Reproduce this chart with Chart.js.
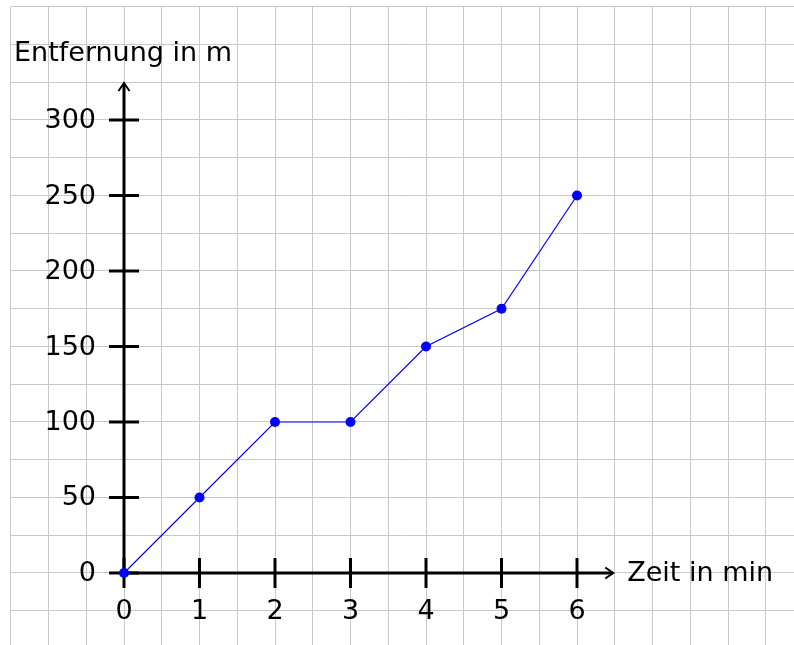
<!DOCTYPE html>
<html>
<head>
<meta charset="utf-8">
<script src="https://cdn.jsdelivr.net/npm/chart.js@4.4.1/dist/chart.umd.min.js"></script>
<style>
  html, body { margin: 0; padding: 0; background: #fff; overflow: hidden; }
  canvas { display: block; }
</style>
</head>
<body>
<canvas id="grafico" width="794" height="645"></canvas>
<script>
// datos
const zeitMin = [0, 1, 2, 3, 4, 5, 6];
const entfernungM = [0, 50, 100, 100, 150, 175, 250];
const xTicks = [0, 1, 2, 3, 4, 5, 6];
const yTicks = [0, 50, 100, 150, 200, 250, 300];
const xTitel = "Zeit in min";
const yTitel = "Entfernung in m";

const FONT = "27px 'DejaVu Sans'";

// ejes con flechas, marcas y textos
const achsenPlugin = {
    id: "achsen",
    beforeDatasetsDraw(chart) {
        const ctx = chart.ctx;
        const sx = chart.scales.x;
        const sy = chart.scales.y;
        const x0 = sx.getPixelForValue(0);
        const y0 = sy.getPixelForValue(0);
        const xEnd = sx.getPixelForValue(6.48);
        const yEnd = sy.getPixelForValue(324.5);

        ctx.save();
        ctx.strokeStyle = "#000";
        ctx.lineWidth = 3;
        ctx.lineCap = "butt";

        // eje x
        ctx.beginPath();
        ctx.moveTo(x0, y0);
        ctx.lineTo(xEnd - 1, y0);
        ctx.stroke();
        // eje y
        ctx.beginPath();
        ctx.moveTo(x0, y0);
        ctx.lineTo(x0, yEnd + 1);
        ctx.stroke();

        // marcas
        xTicks.forEach(v => {
            let px = sx.getPixelForValue(v);
            ctx.beginPath();
            ctx.moveTo(px, y0 - 15);
            ctx.lineTo(px, y0 + 15);
            ctx.stroke();
        });
        yTicks.forEach(v => {
            let py = sy.getPixelForValue(v);
            ctx.beginPath();
            ctx.moveTo(x0 - 15, py);
            ctx.lineTo(x0 + 15, py);
            ctx.stroke();
        });

        // flechas
        ctx.lineWidth = 2;
        ctx.lineJoin = "miter";
        ctx.beginPath();
        ctx.moveTo(xEnd - 8, y0 - 5.5);
        ctx.lineTo(xEnd, y0);
        ctx.lineTo(xEnd - 8, y0 + 5.5);
        ctx.stroke();
        ctx.beginPath();
        ctx.moveTo(x0 - 5.5, yEnd + 8);
        ctx.lineTo(x0, yEnd);
        ctx.lineTo(x0 + 5.5, yEnd + 8);
        ctx.stroke();

        // textos
        ctx.fillStyle = "#000";
        ctx.font = FONT;
        ctx.textAlign = "center";
        ctx.textBaseline = "middle";
        xTicks.forEach(v => {
            ctx.fillText(String(v), sx.getPixelForValue(v), y0 + 39);
        });
        ctx.textAlign = "right";
        yTicks.forEach(v => {
            ctx.fillText(String(v), x0 - 28, sy.getPixelForValue(v) + 1);
        });
        ctx.textAlign = "left";
        ctx.fillText(xTitel, xEnd + 14, y0 + 1);
        ctx.fillText(yTitel, 14, sy.getPixelForValue(0) - 519);
        ctx.restore();
    }
};

const gridColor = "#c8c8c8";

new Chart(document.getElementById("grafico"), {
    type: "line",
    data: {
        datasets: [{
            data: zeitMin.map((x, i) => ({ x: x, y: entfernungM[i] })),
            borderColor: "#0000ff",
            backgroundColor: "#0000ff",
            borderWidth: 1.2,
            pointRadius: 5,
            pointBorderWidth: 0,
            tension: 0
        }]
    },
    options: {
        responsive: false,
        animation: false,
        events: [],
        layout: { autoPadding: false, padding: { left: 10.75, top: 6.75, right: 0, bottom: 0 } },
        plugins: {
            legend: { display: false },
            tooltip: { enabled: false }
        },
        scales: {
            x: {
                type: "linear",
                min: -1.5,
                max: 8.874,
                border: { display: false },
                grid: { color: gridColor, lineWidth: 1, drawTicks: false },
                ticks: { display: false, stepSize: 0.5, includeBounds: false }
            },
            y: {
                type: "linear",
                min: -47.7,
                max: 375,
                border: { display: false },
                grid: { color: gridColor, lineWidth: 1, drawTicks: false },
                ticks: { display: false, stepSize: 25, includeBounds: false }
            }
        }
    },
    plugins: [achsenPlugin]
});
</script>
</body>
</html>
